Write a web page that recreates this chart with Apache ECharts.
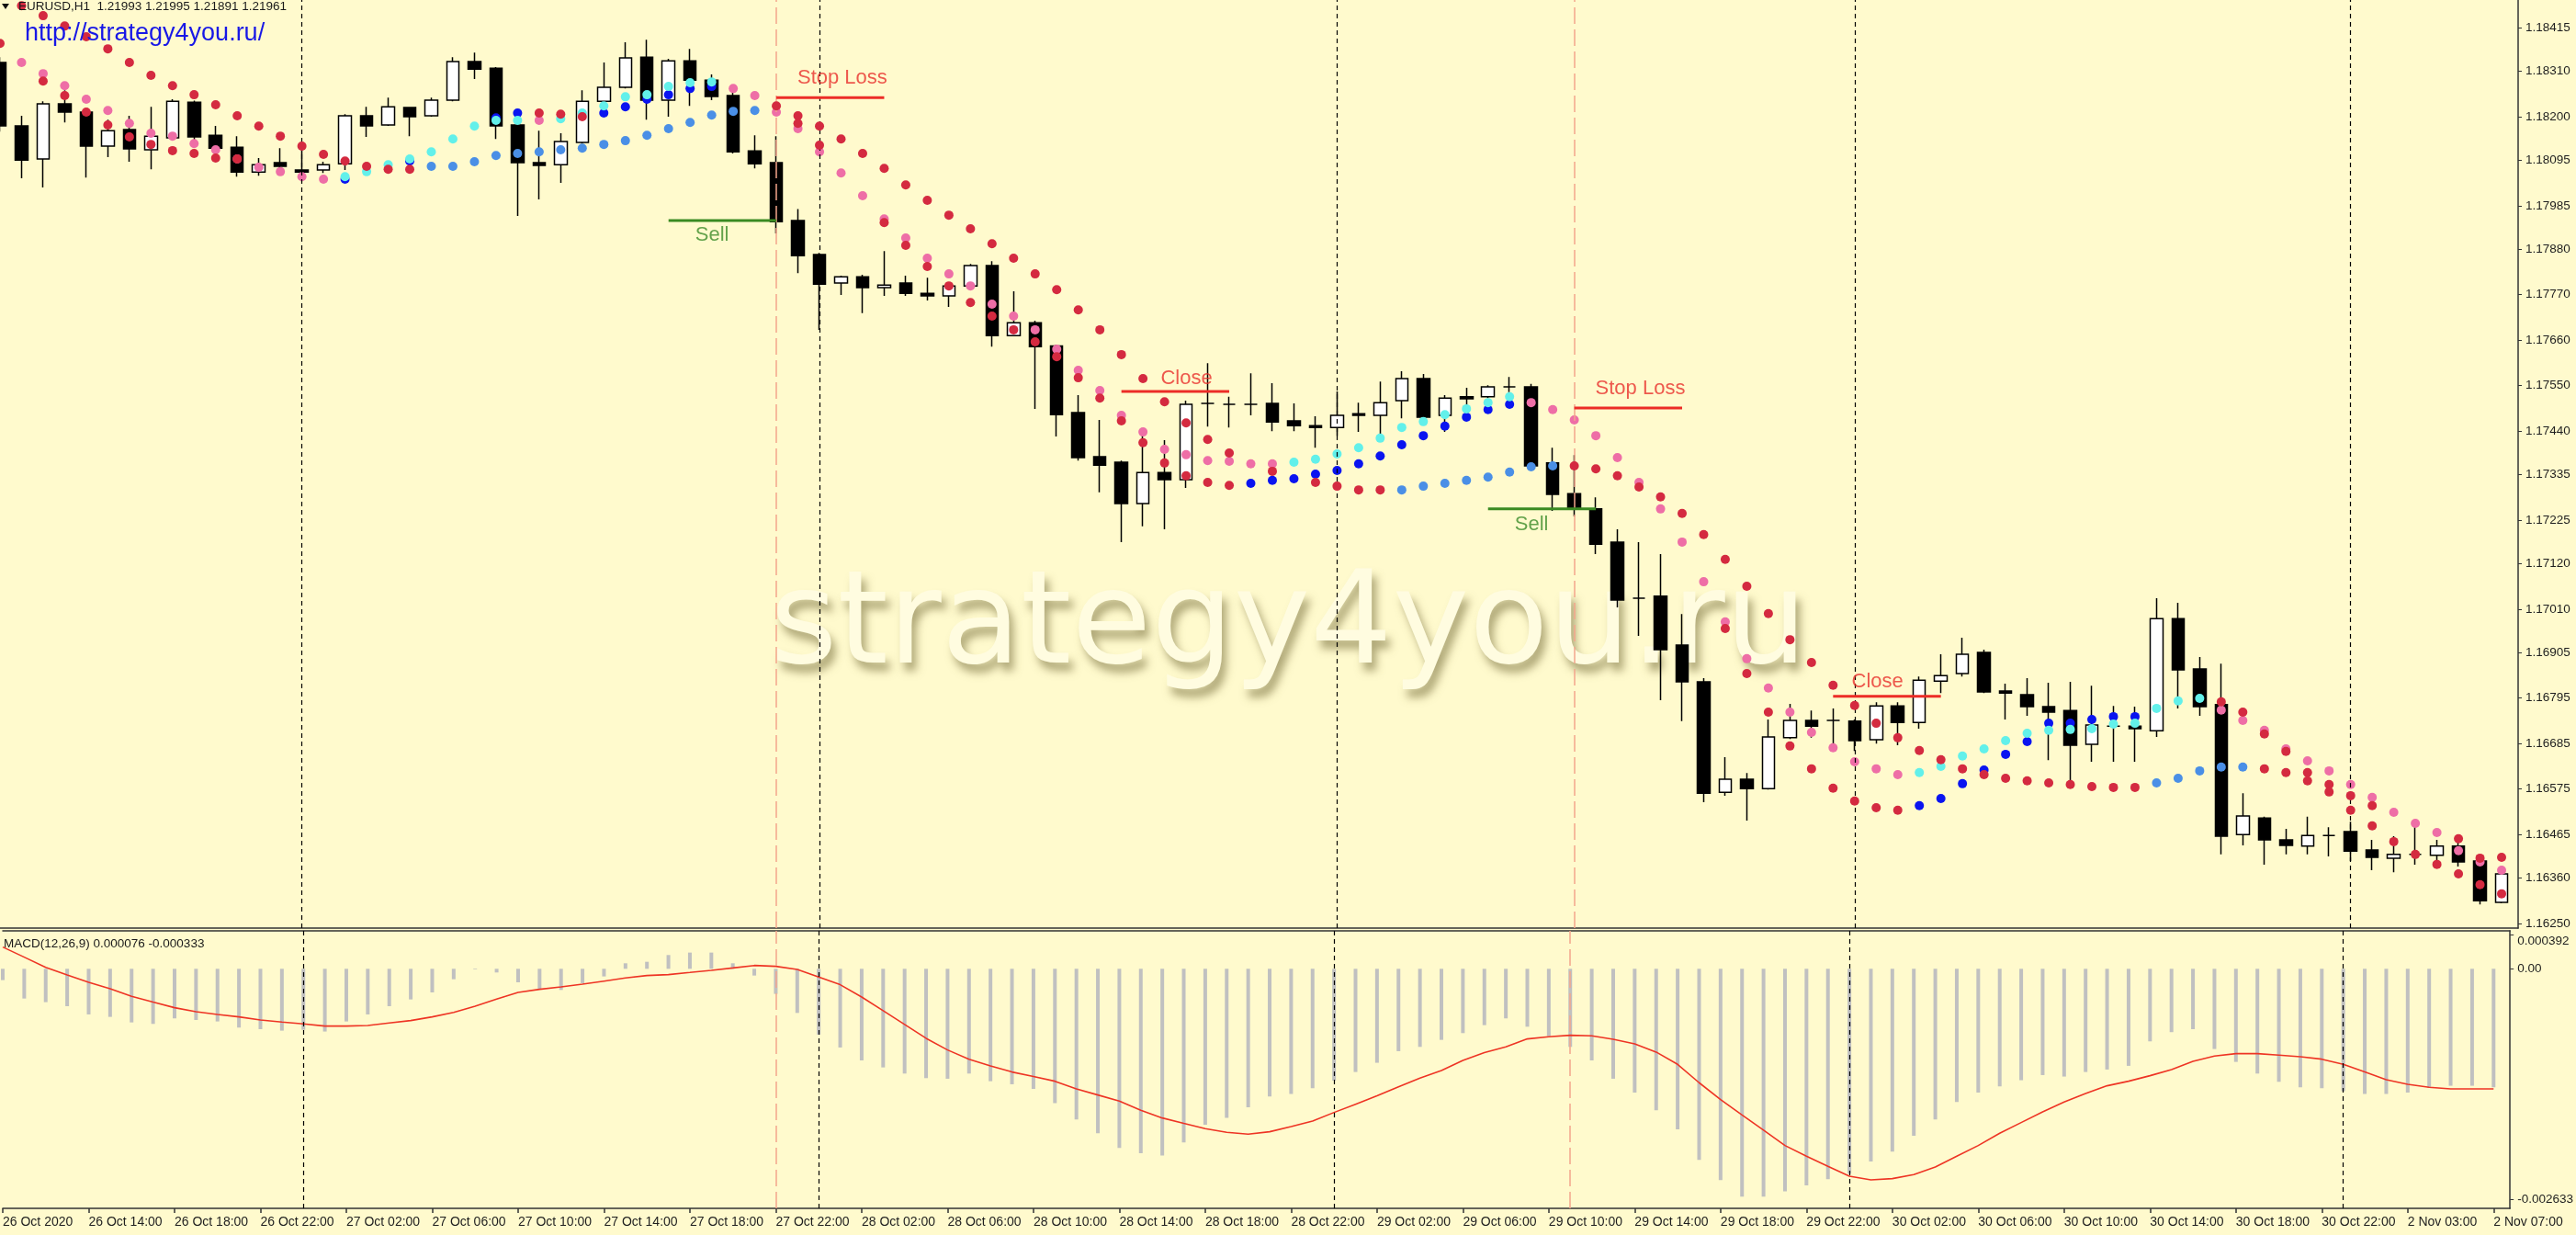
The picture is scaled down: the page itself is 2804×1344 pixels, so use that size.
<!DOCTYPE html>
<html><head><meta charset="utf-8">
<script src="https://cdn.jsdelivr.net/npm/echarts@6/dist/echarts.min.js"></script>
<style>html,body{margin:0;padding:0;background:#fffacd;overflow:hidden}#chart{width:2804px;height:1344px}</style>
</head><body><div id="chart"></div>
<script>
// ---------- axis labels ----------
const timeLabels = ['26 Oct 2020','26 Oct 14:00','26 Oct 18:00','26 Oct 22:00','27 Oct 02:00','27 Oct 06:00','27 Oct 10:00','27 Oct 14:00','27 Oct 18:00','27 Oct 22:00','28 Oct 02:00','28 Oct 06:00','28 Oct 10:00','28 Oct 14:00','28 Oct 18:00','28 Oct 22:00','29 Oct 02:00','29 Oct 06:00','29 Oct 10:00','29 Oct 14:00','29 Oct 18:00','29 Oct 22:00','30 Oct 02:00','30 Oct 06:00','30 Oct 10:00','30 Oct 14:00','30 Oct 18:00','30 Oct 22:00','2 Nov 03:00','2 Nov 07:00'];
const labelBars = [0,4,8,12,16,20,24,28,32,36,40,44,48,52,56,60,64,68,72,76,80,84,88,92,96,100,104,108,112,116];
const priceTicks = [1.18415,1.18310,1.18200,1.18095,1.17985,1.17880,1.17770,1.17660,1.17550,1.17440,1.17335,1.17225,1.17120,1.17010,1.16905,1.16795,1.16685,1.16575,1.16465,1.16360,1.16250];
const macdTicks = [0.000392, 0, -0.002633];
const macdTickLabels = ['0.000392','0.00','-0.002633'];

// ---------- candles (H1 bars) ----------
const open = [1.18331,1.18178,1.18098,1.18231,1.18211,1.18129,1.18169,1.18120,1.18149,1.18235,
1.18155,1.18126,1.18066,1.18089,1.18071,1.18071,1.18086,1.18202,1.18180,1.18222,
1.18202,1.18240,1.18333,1.18317,1.18180,1.18089,1.18084,1.18138,1.18237,1.18271,
1.18344,1.18240,1.18335,1.18288,1.18251,1.18117,1.18089,1.17949,1.17867,1.17798,
1.17813,1.17787,1.17798,1.17773,1.17767,1.17791,1.17840,1.17671,1.17702,1.17646,
1.17485,1.17378,1.17365,1.17265,1.17340,1.17323,1.17507,1.17505,1.17505,1.17507,
1.17465,1.17453,1.17449,1.17482,1.17478,1.17514,1.17567,1.17478,1.17523,1.17523,
1.17547,1.17547,1.17363,1.17289,1.17252,1.17172,1.17036,1.17041,1.16923,1.16834,
1.16567,1.16599,1.16576,1.16699,1.16741,1.16741,1.16739,1.16694,1.16776,1.16736,
1.16836,1.16854,1.16905,1.16812,1.16803,1.16774,1.16765,1.16683,1.16727,1.16727,
1.16716,1.16987,1.16865,1.16779,1.16465,1.16505,1.16452,1.16437,1.16463,1.16472,
1.16428,1.16408,1.16417,1.16415,1.16437,1.16401,1.16301];
const high = [1.18344,1.18202,1.18237,1.18264,1.18213,1.18193,1.18202,1.18224,1.18242,1.18239,
1.18178,1.18153,1.18100,1.18124,1.18135,1.18091,1.18206,1.18224,1.18246,1.18224,
1.18246,1.18344,1.18355,1.18320,1.18182,1.18166,1.18160,1.18264,1.18331,1.18380,
1.18386,1.18340,1.18364,1.18302,1.18260,1.18155,1.18153,1.17977,1.17871,1.17816,
1.17818,1.17875,1.17816,1.17811,1.17793,1.17844,1.17851,1.17778,1.17707,1.17649,
1.17527,1.17467,1.17369,1.17445,1.17418,1.17514,1.17604,1.17523,1.17580,1.17556,
1.17507,1.17476,1.17536,1.17509,1.17560,1.17585,1.17578,1.17527,1.17545,1.17551,
1.17571,1.17554,1.17400,1.17382,1.17280,1.17203,1.17172,1.17143,1.16998,1.16843,
1.16652,1.16614,1.16743,1.16781,1.16765,1.16770,1.16743,1.16785,1.16785,1.16847,
1.16901,1.16941,1.16912,1.16830,1.16843,1.16832,1.16834,1.16825,1.16776,1.16774,
1.17036,1.17025,1.16894,1.16878,1.16565,1.16508,1.16479,1.16508,1.16483,1.16496,
1.16452,1.16461,1.16496,1.16452,1.16457,1.16410,1.16374];
const low = [1.18164,1.18051,1.18029,1.18186,1.18053,1.18102,1.18091,1.18073,1.18144,1.18144,
1.18115,1.18055,1.18057,1.18075,1.18044,1.18064,1.18071,1.18151,1.18178,1.18153,
1.18200,1.18237,1.18291,1.18146,1.17960,1.18000,1.18040,1.18135,1.18235,1.18268,
1.18193,1.18200,1.18226,1.18240,1.18111,1.18075,1.17918,1.17822,1.17685,1.17769,
1.17725,1.17767,1.17767,1.17756,1.17740,1.17789,1.17644,1.17669,1.17494,1.17427,
1.17369,1.17292,1.17172,1.17210,1.17203,1.17303,1.17451,1.17449,1.17478,1.17440,
1.17440,1.17400,1.17429,1.17438,1.17429,1.17471,1.17471,1.17438,1.17494,1.17520,
1.17534,1.17351,1.17247,1.17234,1.17143,1.17014,1.16945,1.16790,1.16739,1.16543,
1.16559,1.16499,1.16574,1.16696,1.16699,1.16681,1.16667,1.16685,1.16681,1.16721,
1.16807,1.16847,1.16807,1.16743,1.16752,1.16645,1.16596,1.16641,1.16641,1.16641,
1.16701,1.16770,1.16752,1.16417,1.16439,1.16392,1.16417,1.16417,1.16412,1.16401,
1.16379,1.16374,1.16392,1.16388,1.16388,1.16296,1.16299];
const close = [1.18178,1.18095,1.18231,1.18211,1.18129,1.18166,1.18122,1.18153,1.18237,1.18151,
1.18124,1.18066,1.18084,1.18080,1.18066,1.18084,1.18202,1.18178,1.18224,1.18200,
1.18240,1.18333,1.18315,1.18178,1.18089,1.18082,1.18140,1.18237,1.18271,1.18342,
1.18240,1.18335,1.18288,1.18249,1.18115,1.18086,1.17946,1.17864,1.17795,1.17813,
1.17787,1.17793,1.17773,1.17767,1.17791,1.17840,1.17671,1.17702,1.17644,1.17480,
1.17376,1.17358,1.17265,1.17340,1.17323,1.17505,1.17507,1.17505,1.17505,1.17462,
1.17453,1.17449,1.17478,1.17478,1.17509,1.17567,1.17474,1.17520,1.17518,1.17547,
1.17547,1.17356,1.17287,1.17252,1.17167,1.17032,1.17036,1.16912,1.16834,1.16565,
1.16599,1.16576,1.16701,1.16741,1.16727,1.16741,1.16692,1.16776,1.16736,1.16838,
1.16849,1.16901,1.16810,1.16807,1.16774,1.16761,1.16681,1.16730,1.16727,1.16721,
1.16987,1.16863,1.16774,1.16461,1.16510,1.16452,1.16439,1.16463,1.16463,1.16425,
1.16410,1.16417,1.16417,1.16437,1.16399,1.16305,1.16370];

// ---------- indicator dots [bar, price] ----------
const redDots = [[0,1.18377],[1,1.18468],[2,1.18444],[2,1.18286],[3,1.18419],[3,1.18251],[4,1.18393],[4,1.18211],
[5,1.18364],[5,1.18180],[6,1.18331],[6,1.18151],[7,1.18300],[7,1.18133],[8,1.18275],[8,1.18118],[9,1.18253],[9,1.18111],
[10,1.18229],[10,1.18100],[11,1.18202],[11,1.18098],[12,1.18177],[13,1.18153],[14,1.18129],[15,1.18109],[16,1.18093],
[17,1.18080],[18,1.18073],[19,1.18073],[25,1.18209],[26,1.18206],[27,1.18200],[36,1.18226],[37,1.18202],[37,1.18184],
[38,1.18177],[38,1.18131],[39,1.18146],[40,1.18111],[41,1.18075],[41,1.17944],[42,1.18035],[42,1.17889],[43,1.17998],[43,1.17838],
[44,1.17962],[44,1.17791],[45,1.17929],[45,1.17751],[46,1.17893],[46,1.17718],[47,1.17858],[47,1.17685],[48,1.17820],[48,1.17656],
[49,1.17782],[49,1.17620],[50,1.17733],[50,1.17569],[51,1.17685],[51,1.17520],[52,1.17625],[52,1.17465],[53,1.17567],[53,1.17412],
[54,1.17511],[54,1.17363],[55,1.17460],[55,1.17332],[56,1.17420],[56,1.17316],[57,1.17387],[57,1.17309],[59,1.17343],
[61,1.17316],[62,1.17307],[63,1.17298],[64,1.17298],[73,1.17356],[74,1.17349],[75,1.17332],[76,1.17305],[77,1.17281],[78,1.17241],[79,1.17190],
[80,1.17130],[80,1.16963],[81,1.17065],[81,1.16854],[82,1.16999],[82,1.16761],[83,1.16936],[83,1.16679],[84,1.16881],[84,1.16624],
[85,1.16826],[85,1.16577],[86,1.16777],[86,1.16546],[87,1.16734],[87,1.16530],[88,1.16699],[88,1.16524],[89,1.16668],[90,1.16646],
[91,1.16624],[92,1.16610],[93,1.16601],[94,1.16595],[95,1.16590],[96,1.16586],[97,1.16581],[98,1.16579],[99,1.16579],
[103,1.16786],[104,1.16761],[105,1.16708],[105,1.16624],[106,1.16666],[106,1.16615],[107,1.16615],[107,1.16595],[108,1.16586],[108,1.16568],
[109,1.16559],[109,1.16524],[110,1.16535],[110,1.16486],[111,1.16448],[112,1.16417],[113,1.16393],[114,1.16455],[114,1.16370],
[115,1.16408],[115,1.16344],[116,1.16410],[116,1.16322]];
const pinkDots = [[1,1.18331],[2,1.18304],[3,1.18275],[4,1.18242],[5,1.18215],[6,1.18184],[7,1.18160],[8,1.18153],[9,1.18135],[10,1.18120],
[11,1.18098],[12,1.18078],[13,1.18067],[14,1.18055],[15,1.18049],[25,1.18191],[34,1.18268],[35,1.18251],[36,1.18211],[37,1.18171],
[38,1.18115],[39,1.18064],[40,1.18009],[41,1.17953],[42,1.17907],[43,1.17858],[44,1.17820],[45,1.17791],[46,1.17747],[47,1.17718],
[48,1.17685],[49,1.17638],[50,1.17587],[51,1.17538],[52,1.17478],[53,1.17438],[54,1.17396],[55,1.17383],[56,1.17369],[57,1.17367],
[58,1.17361],[59,1.17361],[71,1.17509],[72,1.17492],[73,1.17467],[74,1.17429],[75,1.17376],[76,1.17316],[77,1.17252],[78,1.17172],
[79,1.17076],[80,1.16979],[81,1.16890],[82,1.16819],[83,1.16761],[84,1.16712],[85,1.16675],[86,1.16641],[87,1.16624],[88,1.16610],
[103,1.16766],[104,1.16741],[105,1.16717],[106,1.16672],[107,1.16643],[108,1.16619],[109,1.16586],[110,1.16555],[111,1.16519],
[112,1.16492],[113,1.16470],[114,1.16426],[115,1.16399],[116,1.16379]];
const cyanDots = [[16,1.18055],[17,1.18067],[18,1.18084],[19,1.18098],[20,1.18115],[21,1.18146],[22,1.18177],[23,1.18191],[24,1.18191],
[26,1.18195],[27,1.18209],[28,1.18226],[29,1.18248],[30,1.18253],[31,1.18273],[32,1.18282],[33,1.18284],
[60,1.17365],[61,1.17372],[62,1.17385],[63,1.17400],[64,1.17423],[65,1.17449],[66,1.17463],[67,1.17480],[68,1.17494],[69,1.17509],[70,1.17523],
[89,1.16615],[90,1.16630],[91,1.16655],[92,1.16672],[93,1.16692],[94,1.16710],[95,1.16717],[96,1.16719],[97,1.16721],[98,1.16732],
[99,1.16734],[100,1.16770],[101,1.16788],[102,1.16794]];
const blueDots = [[16,1.18049],[19,1.18093],[23,1.18197],[24,1.18209],[28,1.18209],[29,1.18224],[30,1.18242],[31,1.18253],[32,1.18268],[33,1.18273],
[58,1.17314],[59,1.17321],[60,1.17325],[61,1.17336],[62,1.17345],[63,1.17361],[64,1.17380],[65,1.17407],[66,1.17429],[67,1.17452],
[68,1.17474],[69,1.17492],[70,1.17505],[89,1.16535],[90,1.16552],[91,1.16588],[92,1.16621],[93,1.16659],[94,1.16690],[95,1.16734],
[96,1.16734],[97,1.16743],[98,1.16750],[99,1.16750]];
const lightBlueDots = [[20,1.18080],[21,1.18080],[22,1.18091],[23,1.18106],[24,1.18111],[25,1.18115],[26,1.18120],[27,1.18124],[28,1.18133],
[29,1.18142],[30,1.18155],[31,1.18171],[32,1.18186],[33,1.18204],[34,1.18213],[35,1.18215],
[65,1.17298],[66,1.17307],[67,1.17314],[68,1.17321],[69,1.17329],[70,1.17341],[71,1.17354],[72,1.17356],
[100,1.16590],[101,1.16601],[102,1.16619],[103,1.16628],[104,1.16628]];

// ---------- MACD(12,26,9) ----------
const macdHist = [-0.000129,-0.000339,-0.000380,-0.000426,-0.000520,-0.000548,-0.000611,-0.000628,-0.000565,-0.000583,
-0.000600,-0.000670,-0.000688,-0.000705,-0.000695,-0.000715,-0.000600,-0.000520,-0.000426,-0.000349,
-0.000269,-0.000119,-0.000007,-0.000042,-0.000154,-0.000227,-0.000241,-0.000164,-0.000087,0.000063,
0.000080,0.000157,0.000185,0.000185,0.000063,-0.000077,-0.000286,-0.000503,-0.000750,-0.000897,
-0.001044,-0.001124,-0.001194,-0.001246,-0.001253,-0.001194,-0.001281,-0.001316,-0.001368,-0.001532,
-0.001717,-0.001874,-0.002042,-0.002101,-0.002129,-0.001979,-0.001776,-0.001699,-0.001577,-0.001455,
-0.001427,-0.001361,-0.001274,-0.001176,-0.001071,-0.000939,-0.000890,-0.000810,-0.000733,-0.000642,
-0.000565,-0.000660,-0.000768,-0.000890,-0.001044,-0.001253,-0.001410,-0.001612,-0.001829,-0.002178,
-0.002408,-0.002597,-0.002597,-0.002537,-0.002467,-0.002398,-0.002335,-0.002195,-0.002084,-0.001902,
-0.001717,-0.001518,-0.001410,-0.001340,-0.001270,-0.001211,-0.001228,-0.001176,-0.001148,-0.001106,
-0.000827,-0.000722,-0.000688,-0.000914,-0.001061,-0.001194,-0.001288,-0.001351,-0.001361,-0.001396,
-0.001427,-0.001427,-0.001410,-0.001358,-0.001333,-0.001333,-0.001351];
const macdSignal = [0.000248,0.000133,0.000017,-0.000070,-0.000154,-0.000227,-0.000314,-0.000380,-0.000443,-0.000489,
-0.000520,-0.000548,-0.000583,-0.000607,-0.000628,-0.000653,-0.000653,-0.000646,-0.000618,-0.000590,
-0.000548,-0.000496,-0.000426,-0.000346,-0.000269,-0.000234,-0.000206,-0.000175,-0.000140,-0.000105,
-0.000077,-0.000066,-0.000042,-0.000017,0.000010,0.000038,0.000028,-0.000007,-0.000094,-0.000181,
-0.000321,-0.000478,-0.000635,-0.000792,-0.000925,-0.001030,-0.001106,-0.001176,-0.001228,-0.001281,
-0.001368,-0.001438,-0.001508,-0.001612,-0.001700,-0.001762,-0.001822,-0.001864,-0.001885,-0.001857,
-0.001797,-0.001735,-0.001637,-0.001543,-0.001448,-0.001344,-0.001246,-0.001159,-0.001044,-0.000956,
-0.000890,-0.000799,-0.000775,-0.000757,-0.000764,-0.000803,-0.000855,-0.000949,-0.001089,-0.001298,
-0.001490,-0.001665,-0.001839,-0.002014,-0.002136,-0.002251,-0.002363,-0.002405,-0.002391,-0.002345,
-0.002258,-0.002136,-0.002014,-0.001874,-0.001752,-0.001630,-0.001518,-0.001420,-0.001333,-0.001281,
-0.001218,-0.001148,-0.001054,-0.000995,-0.000967,-0.000967,-0.000984,-0.001002,-0.001030,-0.001089,
-0.001176,-0.001263,-0.001316,-0.001351,-0.001368,-0.001368,-0.001368];

// ---------- chart objects ----------
const periodSeparators = [14, 38, 62, 86, 109];
const signalBars = [36, 73];
const tradeLevels = [
  {name:'Sell', from:31, to:36, price:1.17949},
  {name:'Stop Loss', from:36, to:41, price:1.18246},
  {name:'Close', from:52, to:57, price:1.17536},
  {name:'Sell', from:69, to:74, price:1.17252},
  {name:'Stop Loss', from:73, to:78, price:1.17496},
  {name:'Close', from:85, to:90, price:1.16799}
];
const tradeTexts = [
  {name:'Sell', bar:33.02, price:1.17913},
  {name:'Stop Loss', bar:39.06, price:1.18293},
  {name:'Close', bar:55.02, price:1.17567},
  {name:'Sell', bar:71.02, price:1.17214},
  {name:'Stop Loss', bar:76.06, price:1.17543},
  {name:'Close', bar:87.06, price:1.16834}
];

// ---------- build ----------
const FONT = '"Liberation Sans", Arial, sans-serif';
const BAR_PX = 23.5, PLOT_W = 2744;
const xMax = PLOT_W / BAR_PX;
const levelColor = n => n === 'Sell' ? '#3a8a22' : '#ec2c26';
const candleData = open.map((o, i) => [i, o, close[i], low[i], high[i]]);
const sepLines = periodSeparators.map(b => ({xAxis: b, lineStyle: {color:'#000', type:[5,4], width:1.2}}))
  .concat(signalBars.map(b => ({xAxis: b, lineStyle: {color:'#f4a58c', type:[18,6], width:1.5}})));
const vLines = {silent:true, symbol:['none','none'], label:{show:false}, animation:false, data: sepLines};

function xAx(grid, extra) {
  return Object.assign({type:'value', gridIndex:grid, min:0, max:xMax,
    axisLine:{show:true, onZero:false, lineStyle:{color:'#333', width:1.5}},
    axisTick:{show:false}, axisLabel:{show:false}, splitLine:{show:false}}, extra || {});
}

const option = {
  animation:false,
  backgroundColor:'#fffacd',
  textStyle:{fontFamily:FONT},
  grid:[
    {left:-3, top:0, width:PLOT_W, height:1010},
    {left:-3, top:1013, width:PLOT_W, height:302}
  ],
  xAxis:[
    xAx(0),
    xAx(1, {position:'bottom',
      axisTick:{show:true, length:5, customValues:labelBars, lineStyle:{color:'#333', width:1.5}},
      axisLabel:{show:true, customValues:labelBars, align:'left', margin:8, fontSize:14, color:'#1e1e1e', fontFamily:FONT,
        formatter: v => timeLabels[labelBars.indexOf(Math.round(v))] || ''}}),
    xAx(1, {position:'top'})
  ],
  yAxis:[
    {type:'value', gridIndex:0, position:'right', min:1.16239, max:1.18482,
      axisLine:{show:true, onZero:false, lineStyle:{color:'#333', width:1.5}},
      axisTick:{show:true, length:4, customValues:priceTicks, lineStyle:{color:'#333'}},
      axisLabel:{show:true, customValues:priceTicks, margin:8, fontSize:13.5, color:'#1e1e1e', fontFamily:FONT,
        formatter: v => v.toFixed(5)},
      splitLine:{show:false}},
    {type:'value', gridIndex:1, position:'right', min:-0.00273, max:0.0004325,
      axisLine:{show:true, onZero:false, lineStyle:{color:'#333', width:1.5}},
      axisTick:{show:true, length:4, customValues:macdTicks, lineStyle:{color:'#333'}},
      axisLabel:{show:true, customValues:macdTicks, margin:8, fontSize:13.5, color:'#1e1e1e', fontFamily:FONT,
        formatter: v => {
          const k = macdTicks.findIndex(t => Math.abs(t - v) < 1e-7);
          if (k < 0) return '';
          return k === 0 ? '{top|' + macdTickLabels[k] + '}' : macdTickLabels[k];
        },
        rich:{top:{padding:[14,0,0,0], fontSize:13.5, color:'#1e1e1e', fontFamily:FONT}}},
      splitLine:{show:false}}
  ],
  graphic:[
    {type:'text', z:0, x:838, y:684, silent:true,
      style:{text:'strategy4you.ru', font:'141px "DejaVu Sans"', fill:'#fffce0', align:'left', verticalAlign:'middle',
        shadowBlur:10, shadowColor:'rgba(110,100,50,0.55)', shadowOffsetX:5, shadowOffsetY:9,
        textShadowBlur:10, textShadowColor:'rgba(110,100,50,0.55)', textShadowOffsetX:5, textShadowOffsetY:9}},
    {type:'polygon', z:10, shape:{points:[[2,4],[10,4],[6,10]]}, style:{fill:'#111'}},
    {type:'text', z:10, x:20, y:7, style:{text:'EURUSD,H1  1.21993 1.21995 1.21891 1.21961', font:'13.5px ' + FONT, fill:'#1a1a1a', align:'left', verticalAlign:'middle'}},
    {type:'text', z:10, x:27, y:37, style:{text:'http://strategy4you.ru/', font:'27px ' + FONT, fill:'#1818e6', align:'left', verticalAlign:'middle'}},
    {type:'text', z:10, x:4, y:1027, style:{text:'MACD(12,26,9) 0.000076 -0.000333', font:'13.5px ' + FONT, fill:'#1a1a1a', align:'left', verticalAlign:'middle'}}
  ],
  series:[
    {type:'candlestick', xAxisIndex:0, yAxisIndex:0, data:candleData, barWidth:14, z:2,
      itemStyle:{color:'#ffffff', color0:'#000000', borderColor:'#000000', borderColor0:'#000000', borderWidth:1.5},
      markLine: vLines},
    {type:'scatter', xAxisIndex:0, yAxisIndex:0, data:lightBlueDots, symbolSize:10, silent:true, z:3, itemStyle:{color:'#4a8fe6', opacity:1}},
    {type:'scatter', xAxisIndex:0, yAxisIndex:0, data:blueDots, symbolSize:10, silent:true, z:3, itemStyle:{color:'#0a14f0', opacity:1}},
    {type:'scatter', xAxisIndex:0, yAxisIndex:0, data:cyanDots, symbolSize:10, silent:true, z:4, itemStyle:{color:'#62f0ea', opacity:1}},
    {type:'scatter', xAxisIndex:0, yAxisIndex:0, data:pinkDots, symbolSize:10, silent:true, z:4, itemStyle:{color:'#ee6ea6', opacity:1}},
    {type:'scatter', xAxisIndex:0, yAxisIndex:0, data:redDots, symbolSize:10, silent:true, z:5, itemStyle:{color:'#d42a40', opacity:1}},
    ...tradeLevels.map(t => ({type:'line', xAxisIndex:0, yAxisIndex:0, silent:true, z:6, symbol:'none',
      data:[[t.from, t.price],[t.to, t.price]], lineStyle:{color:levelColor(t.name), width:3}})),
    {type:'scatter', xAxisIndex:0, yAxisIndex:0, silent:true, z:7, symbolSize:0,
      data: tradeTexts.map(t => ({name:t.name, value:[t.bar, t.price],
        label:{color: t.name === 'Sell' ? '#3c8c2a' : '#e8302c'}})),
      label:{show:true, position:'inside', formatter:'{b}', fontSize:22, fontFamily:FONT}},
    {type:'bar', xAxisIndex:1, yAxisIndex:1, data: macdHist.map((v, i) => [i, v]), barWidth:4, z:2,
      itemStyle:{color:'#c0c0c0'}, silent:true, markLine: vLines},
    {type:'line', xAxisIndex:1, yAxisIndex:1, data: macdSignal.map((v, i) => [i, v]), symbol:'none', z:3, silent:true,
      lineStyle:{color:'#ee3424', width:1.6}}
  ]
};
const chart = echarts.init(document.getElementById('chart'), null, {renderer:'canvas'});
chart.setOption(option);
</script></body></html>
